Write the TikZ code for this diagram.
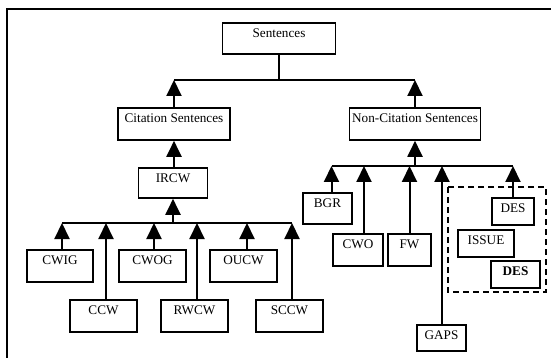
\documentclass[tikz,border=0pt]{standalone}
\usepackage{fontspec}
\setmainfont{Liberation Serif}
\usepackage{tikz}
\usetikzlibrary{arrows.meta}
\tikzset{catbox/.style={draw,line width=1.8pt,anchor=north,inner xsep=0pt,inner ysep=0pt,
    text height=14.8pt,text depth=17.2pt,font=\fontsize{13.2}{15}\selectfont},
  link/.style={line width=2pt},
  uparrow/.style={link,-{Triangle[width=15pt,length=16pt]}}}
\newcommand{\catbox}[5][]{\node[catbox,minimum width=#4,#1] at (#2) (#3) {#5}}

\begin{document}
\begin{tikzpicture}[x=1pt,y=-1pt]
  \useasboundingbox (0,0) rectangle (551,358);
  \clip (0,0) rectangle (551,358);
  \draw[line width=2.2pt] (7,9) rectangle (600,400);

  \catbox[text depth=16.2pt]{279,22}{sent}{113pt}{Sentences};
  \catbox{174,107}{cit}{112pt}{Citation Sentences};
  \catbox{415,107}{ncs}{131pt}{Non-Citation Sentences};
  \catbox[text depth=15.2pt]{173,167}{ircw}{69pt}{IRCW};
  \catbox{60,249}{cwig}{66pt}{CWIG};
  \catbox{103.5,299}{ccw}{67pt}{CCW};
  \catbox{152.5,249}{cwog}{67pt}{CWOG};
  \catbox{194.5,299}{rwcw}{67pt}{RWCW};
  \catbox{243.5,249}{oucw}{67pt}{OUCW};
  \catbox{289.5,299}{sccw}{67pt}{SCCW};
  \catbox[text depth=16.2pt]{327.5,192}{bgr}{49pt}{BGR};
  \catbox{358,233}{cwo}{50pt}{CWO};
  \catbox{409.5,233}{fw}{43pt}{FW};
  \catbox[text depth=11.2pt]{441.5,324}{gaps}{49pt}{GAPS};
  \catbox[text depth=12.2pt]{513,197}{des}{42pt}{DES};
  \catbox[text depth=12.2pt]{486,229}{issue}{56pt}{ISSUE};
  \catbox[text depth=12.2pt]{515.5,260}{desb}{49pt}{\bfseries DES};

  % dashed group
  \draw[line width=1.8pt,dash pattern=on 6pt off 4pt] (448,187) rectangle (546,292);

  \coordinate (topbar) at (279,80);
  \coordinate (lbar) at (173,223);
  \coordinate (rbar) at (415,166);

  % top level
  \draw[link] (sent.south) -- (topbar);
  \draw[link] (cit.north |- topbar) -- (ncs.north |- topbar);
  \draw[uparrow] (cit.north) -- (cit.north |- topbar);
  \draw[uparrow] (ncs.north) -- (ncs.north |- topbar);

  % citation side
  \draw[uparrow] (cit.south |- ircw.north) -- (cit.south);
  \draw[uparrow] (lbar) -- (ircw.south);
  \draw[link] ([xshift=2pt]cwig.north |- lbar) -- ([xshift=2.5pt]sccw.north |- lbar);
  \foreach \n/\dx in {cwig/2,ccw/2.5,cwog/1.5,rwcw/2.5,oucw/3.5,sccw/2.5}
    \draw[uparrow] ([xshift=\dx pt]\n.north) -- ([xshift=\dx pt]\n.north |- lbar);

  % non-citation side
  \draw[uparrow] (rbar) -- (ncs.south);
  \draw[link] ([xshift=4pt]bgr.north |- rbar) -- (des.north |- rbar);
  \foreach \n/\dx in {bgr/4,cwo/6,fw/0,gaps/0.5,des/0}
    \draw[uparrow] ([xshift=\dx pt]\n.north) -- ([xshift=\dx pt]\n.north |- rbar);
\end{tikzpicture}
\end{document}
